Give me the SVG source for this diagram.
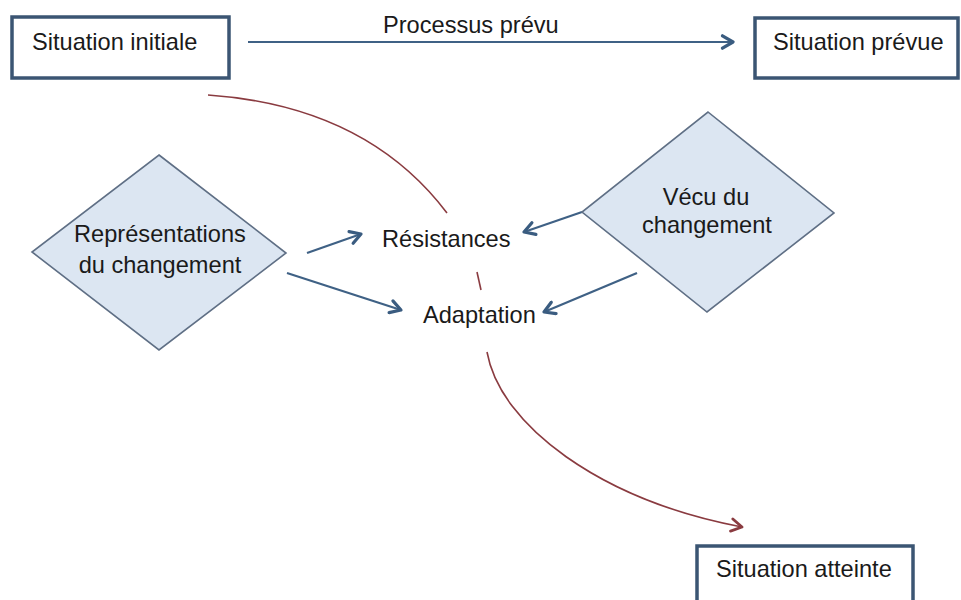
<svg xmlns="http://www.w3.org/2000/svg" width="961" height="600" viewBox="0 0 961 600">
  <defs>
    <style>
      text { font-family: "Liberation Sans", Arial, Helvetica, sans-serif; font-size: 23.6px; fill: #1a1a1a; }
      .box { fill: #ffffff; stroke: #3b5573; stroke-width: 3.5; }
      .diamond { fill: #dce6f2; stroke: #5f6f85; stroke-width: 1.6; }
      .flow { fill: none; stroke: #3f6185; stroke-width: 2.2; }
      .path { fill: none; stroke: #8a3b40; stroke-width: 1.6; }
      .mid { text-anchor: middle; }
    </style>
    <marker id="arrow-blue" viewBox="0 0 16 16" refX="14" refY="8" markerWidth="16" markerHeight="16" markerUnits="userSpaceOnUse" orient="auto">
      <polyline points="3.5,1.8 14,8 3.5,14.2" fill="none" stroke="#3a5c80" stroke-width="3.2" stroke-linecap="round" stroke-linejoin="round"/>
    </marker>
    <marker id="arrow-red" viewBox="0 0 16 16" refX="14" refY="8" markerWidth="16" markerHeight="16" markerUnits="userSpaceOnUse" orient="auto">
      <polyline points="3.5,1.8 14,8 3.5,14.2" fill="none" stroke="#8a3b40" stroke-width="2.8" stroke-linecap="round" stroke-linejoin="round"/>
    </marker>
  </defs>

  <rect width="961" height="600" fill="#ffffff"/>

  <!-- connectors -->
  <g id="connectors">
    <line class="flow" x1="248" y1="42" x2="733" y2="42" marker-end="url(#arrow-blue)"/>
    <line class="flow" x1="307" y1="253" x2="361" y2="234" marker-end="url(#arrow-blue)"/>
    <line class="flow" x1="287" y1="273" x2="401" y2="310" marker-end="url(#arrow-blue)"/>
    <line class="flow" x1="582" y1="212" x2="524" y2="232" marker-end="url(#arrow-blue)"/>
    <line class="flow" x1="637" y1="273" x2="544" y2="312" marker-end="url(#arrow-blue)"/>
    <!-- red arc, interrupted by the labels it passes behind -->
    <path class="path" d="M208,95 Q366,106 447,213"/>
    <line class="path" x1="477" y1="272" x2="481" y2="290"/>
    <path class="path" d="M487,352 C500,425 600,500 742,527" marker-end="url(#arrow-red)"/>
  </g>

  <g id="label-processus">
    <text x="383" y="33">Processus prévu</text>
  </g>

  <g id="situation-initiale">
    <rect class="box" x="12" y="17" width="217" height="61"/>
    <text x="32" y="50">Situation initiale</text>
  </g>

  <g id="situation-prevue">
    <rect class="box" x="755" y="18" width="203" height="60"/>
    <text x="773" y="50">Situation prévue</text>
  </g>

  <g id="situation-atteinte">
    <rect class="box" x="697" y="546" width="216" height="70"/>
    <text x="716" y="577">Situation atteinte</text>
  </g>

  <g id="representations">
    <polygon class="diamond" points="159,155 286,253 159,350 32,252"/>
    <text class="mid" x="160" y="242">Représentations</text>
    <text class="mid" x="160" y="273">du changement</text>
  </g>

  <g id="vecu">
    <polygon class="diamond" points="708,112 834,213 707,312 582,212"/>
    <text class="mid" x="706" y="205">Vécu du</text>
    <text class="mid" x="707" y="233">changement</text>
  </g>

  <g id="resistances">
    <text x="382" y="247">Résistances</text>
  </g>

  <g id="adaptation">
    <text x="423" y="323">Adaptation</text>
  </g>
</svg>
